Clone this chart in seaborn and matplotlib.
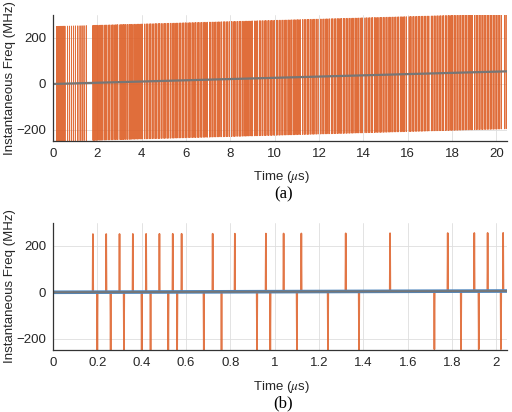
import numpy as np
import pandas as pd
import matplotlib
matplotlib.use("Agg")
import matplotlib.pyplot as plt
import seaborn as sns

# ---- data ----
# chirp (gray line) end points, MHz
t_end_a = 20.48
f_line_a = [0, 55]
t_end_b = 2.048
f_line_b = [0, 5.5]
spike_amp = 250

# (a) wrap spikes (each one goes up and down at the same spot), us
spikes_a = [
    0.16, 0.19, 0.22, 0.26, 0.29, 0.33, 0.36, 0.40, 0.43, 0.47, 0.50, 0.54,
    0.66, 0.75, 0.84, 0.93, 1.01, 1.12, 1.22, 1.31, 1.40, 1.50,
    1.80, 1.84, 1.88, 1.93, 1.97, 2.02, 2.08, 2.13, 2.19, 2.24, 2.31, 2.37, 2.42,
    2.49, 2.55, 2.62, 2.68, 2.75, 2.81, 2.88, 2.92,
    3.02, 3.07, 3.12, 3.18, 3.24, 3.29, 3.36, 3.43, 3.48, 3.55, 3.61, 3.68, 3.74,
    3.80, 3.87, 3.93, 3.99, 4.04,
    4.14, 4.21, 4.27, 4.34, 4.40, 4.47, 4.55, 4.62, 4.68, 4.75, 4.81, 4.88, 4.96,
    5.03, 5.09, 5.16, 5.22, 5.30, 5.37, 5.43, 5.50, 5.56, 5.63, 5.70, 5.76, 5.83,
    5.89, 5.96, 6.00,
    6.09, 6.15, 6.22, 6.30, 6.36, 6.43, 6.50, 6.56, 6.63, 6.70, 6.77, 6.84, 6.90, 6.96,
    7.06, 7.12, 7.19, 7.26, 7.32, 7.40, 7.47, 7.53, 7.60, 7.68, 7.74, 7.81, 7.88, 7.95,
    8.05, 8.12, 8.18, 8.25, 8.33, 8.40, 8.46, 8.53, 8.61, 8.67, 8.74, 8.80, 8.88,
    8.94, 9.00,
    9.10, 9.16, 9.23, 9.31, 9.37, 9.44, 9.52, 9.58, 9.65, 9.72, 9.79, 9.85, 9.92, 9.98,
    10.08, 10.14, 10.21, 10.28, 10.35, 10.42, 10.48, 10.55, 10.63, 10.69, 10.76,
    10.83, 10.90, 10.96, 11.03, 11.09, 11.15,
    11.26, 11.33, 11.40, 11.47, 11.53, 11.60, 11.68, 11.74, 11.81, 11.88, 11.95,
    12.06, 12.13, 12.20, 12.27, 12.34, 12.40, 12.47, 12.55, 12.61, 12.68, 12.75,
    12.82, 12.89, 12.95, 13.02, 13.10, 13.16, 13.23, 13.30, 13.37, 13.44, 13.50,
    13.57, 13.65, 13.71, 13.78, 13.85, 13.91, 13.95,
    14.07, 14.14, 14.21, 14.28, 14.35, 14.41, 14.49, 14.56, 14.62, 14.70, 14.77,
    14.83, 14.90, 14.97, 15.04, 15.11, 15.18, 15.24, 15.31, 15.38, 15.45, 15.52,
    15.58, 15.66, 15.73, 15.79, 15.86, 15.93,
    16.06, 16.12, 16.19, 16.26, 16.33, 16.40, 16.47, 16.54, 16.61, 16.67, 16.74,
    16.81, 16.88, 16.95,
    17.06, 17.13, 17.20, 17.27, 17.34, 17.41, 17.48, 17.55, 17.61, 17.69, 17.76,
    17.83, 17.90, 17.96, 18.03, 18.10, 18.17, 18.24, 18.31, 18.38, 18.45, 18.52,
    18.59, 18.66, 18.73, 18.80, 18.86, 18.90,
    19.02, 19.09, 19.16, 19.23, 19.30, 19.37, 19.44, 19.51, 19.58, 19.65, 19.72,
    19.79, 19.86, 19.93, 20.00, 20.07, 20.14, 20.21, 20.36, 20.43,
]

# (b) spikes, us
up_b = [0.18, 0.24, 0.30, 0.36, 0.42, 0.48, 0.54, 0.58, 0.72, 0.82, 0.96, 1.04,
        1.12, 1.32, 1.52, 1.78, 1.90, 1.96, 2.03]
down_b = [0.20, 0.26, 0.32, 0.40, 0.44, 0.52, 0.56, 0.68, 0.76, 0.92, 0.98, 1.10,
          1.24, 1.38, 1.72, 1.84, 1.92, 2.02]

xticks_a = [0, 2, 4, 6, 8, 10, 12, 14, 16, 18, 20]
xticks_b = [0, 0.2, 0.4, 0.6, 0.8, 1, 1.2, 1.4, 1.6, 1.8, 2]
xticklabels_b = ["0", "0.2", "0.4", "0.6", "0.8", "1", "1.2", "1.4", "1.6", "1.8", "2"]
yticks = [-200, 0, 200]

ORANGE = "#dd5e26"
GRAY = "#767676"
BLUE = "#4f86bd"
TXT = "#262626"


def base(t, t_end, f_line):
    return np.interp(t, [0, t_end], f_line)


def path_a():
    e = 0.003
    pts = [(0, base(0, t_end_a, f_line_a))]
    for t in spikes_a:
        b = base(t, t_end_a, f_line_a)
        pts += [(t - e, b), (t, b + spike_amp), (t + e, b - spike_amp), (t + 2 * e, b)]
    pts.append((t_end_a, base(t_end_a, t_end_a, f_line_a)))
    return pd.DataFrame(pts, columns=["t", "f"])


def path_b():
    e = 0.0015
    ev = sorted([(t, 1) for t in up_b] + [(t, -1) for t in down_b])
    pts = [(0, base(0, t_end_b, f_line_b))]
    for t, s in ev:
        b = base(t, t_end_b, f_line_b)
        pts += [(t - e, b), (t, b + s * spike_amp), (t + e, b)]
    pts.append((t_end_b, base(t_end_b, t_end_b, f_line_b)))
    return pd.DataFrame(pts, columns=["t", "f"])


sns.set_theme(style="whitegrid")
plt.rcParams["font.family"] = ["Liberation Sans", "DejaVu Sans"]
plt.rcParams["mathtext.fontset"] = "stix"

fig = plt.figure(figsize=(5.12, 4.12), dpi=100)
ax1 = fig.add_axes([0.1035, 0.6566, 0.887, 0.307])
ax2 = fig.add_axes([0.1035, 0.1495, 0.887, 0.3104])

line_a = pd.DataFrame({"t": [0, t_end_a], "f": f_line_a})
line_b = pd.DataFrame({"t": [0, t_end_b], "f": f_line_b})

sns.lineplot(data=path_a(), x="t", y="f", ax=ax1, color=ORANGE, lw=0.6,
             alpha=0.9, estimator=None, sort=False)
sns.lineplot(data=line_a, x="t", y="f", ax=ax1, color=GRAY, lw=1.6,
             estimator=None)

sns.lineplot(data=path_b(), x="t", y="f", ax=ax2, color=ORANGE, lw=1.2,
             alpha=0.85, estimator=None, sort=False)
sns.lineplot(data=line_b, x="t", y="f", ax=ax2, color=BLUE, lw=2.6,
             estimator=None)
sns.lineplot(data=line_b, x="t", y="f", ax=ax2, color=GRAY, lw=1.4,
             estimator=None)

for ax, tend, xt in [(ax1, t_end_a, xticks_a), (ax2, t_end_b, xticks_b)]:
    ax.set_xlim(0, tend)
    ax.set_ylim(-250, 300)
    ax.set_xticks(xt)
    ax.set_yticks(yticks)
    ax.grid(True, color="#dedede", lw=0.6)
    ax.set_axisbelow(True)
    for s in ["top", "right"]:
        ax.spines[s].set_visible(False)
    for s in ["left", "bottom"]:
        ax.spines[s].set_color("#333333")
        ax.spines[s].set_linewidth(0.9)
    ax.tick_params(direction="in", length=3, width=0.8, colors="#333333",
                   labelsize=9.5, labelcolor=TXT, pad=5)
    ax.set_xlabel("Time ($\\mu$s)", fontsize=9.5, color=TXT)
    ax.set_ylabel("Instantaneous Freq (MHz)", fontsize=9.5, color=TXT)
    ax.yaxis.set_label_coords(-0.082, 0.5)
    ax.xaxis.set_label_coords(0.502, -0.22)

ax2.set_xticklabels(xticklabels_b)

fig.text(0.553, 1 - 194 / 412, "(a)", family="Liberation Serif", fontsize=12,
         ha="center", va="center", color="black")
fig.text(0.553, 1 - 403 / 412, "(b)", family="Liberation Serif", fontsize=12,
         ha="center", va="center", color="black")

fig.savefig("out.png", dpi=100)
